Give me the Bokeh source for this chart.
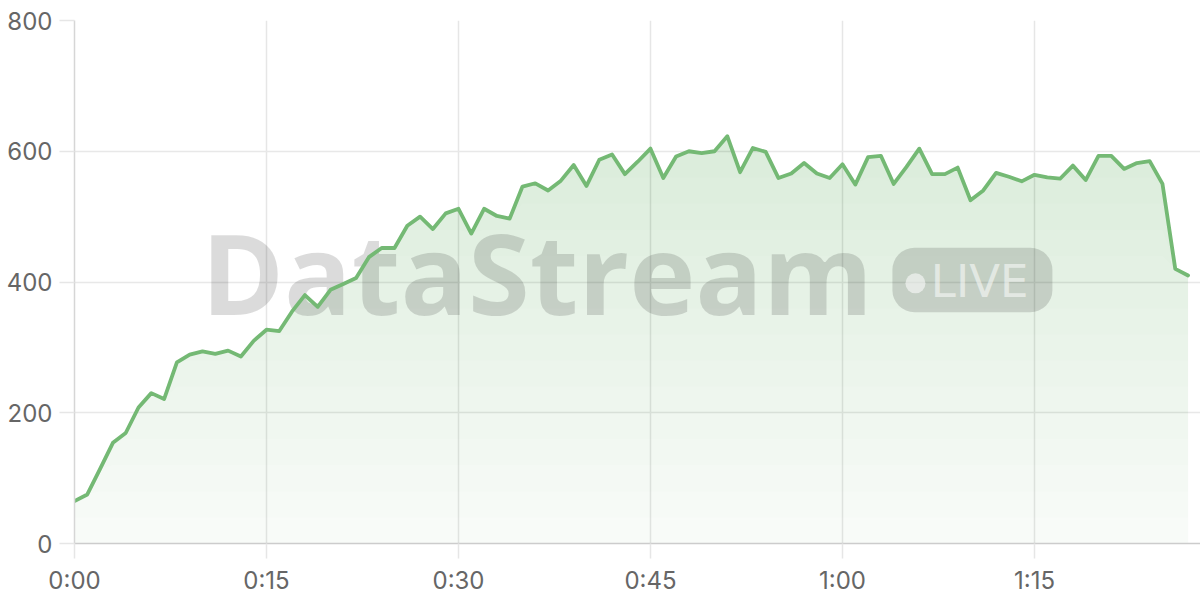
import numpy as np
from bokeh.plotting import figure
from bokeh.models import Range1d, FixedTicker, BoxAnnotation
from bokeh.core.properties import value
from bokeh.embed import file_html
from bokeh.resources import INLINE

# ---- data ----
minutes = list(range(88))
viewers = [65, 75, 114, 154, 169, 208, 230, 221, 277, 289, 294, 290, 295, 286, 310, 327, 325, 355, 380, 362,
           388, 397, 406, 438, 452, 452, 486, 500, 481, 505, 512, 474, 512, 501, 497, 546, 551, 540, 555, 579,
           547, 587, 595, 565, 584, 604, 559, 592, 600, 597, 600, 623, 568, 605, 599, 559, 566, 582, 566, 559,
           580, 549, 591, 593, 550, 576, 604, 565, 565, 575, 525, 540, 567, 561, 554, 564, 560, 558, 578, 556,
           593, 593, 573, 582, 585, 550, 420, 410]
x_ticks = [0, 15, 30, 45, 60, 75]
x_tick_labels = ["0:00", "0:15", "0:30", "0:45", "1:00", "1:15"]
y_ticks = [0, 200, 400, 600, 800]

GREEN = "#74b974"
FONT = "Inter"

p = figure(frame_width=1126, frame_height=523, output_backend="svg", toolbar_location=None,
           x_range=Range1d(0, 87.97), y_range=Range1d(0, 800),
           min_border_left=74, min_border_right=0, min_border_top=20, min_border_bottom=55)
p.outline_line_color = None
p.background_fill_color = "white"
p.border_fill_color = "white"

# gradient-like area fill: base layer + accumulating layers (darker towards the top)
x = np.array(minutes, dtype=float)
v = np.array(viewers, dtype=float)
p.varea(x=x, y1=np.zeros_like(v), y2=v, fill_color=(116, 185, 116, 0.05))
for b in np.arange(40, 800, 40):
    p.varea(x=x, y1=np.minimum(v, b), y2=v, fill_color=(116, 185, 116, 0.016))

# watermark
p.text(x=[9.9], y=[416], text=["DataStream"], text_font=value("Open Sans"), text_font_style="bold",
       text_font_size="112px", text_color="black", text_alpha=0.14, text_baseline="middle",
       text_align="left")
badge = BoxAnnotation(left=63.9, right=76.4, bottom=353.8, top=452.3, fill_color="black", fill_alpha=0.14,
                      line_color=None, border_radius=22)
p.add_layout(badge)
p.scatter(x=[65.7], y=[398], size=20, marker="circle", fill_color="white", fill_alpha=0.55,
          line_color=None, level="overlay")
p.text(x=[66.9], y=[401.5], text=["LIVE"], text_font=value("DejaVu Sans"), text_font_size="45px",
       text_color="white", text_alpha=0.55, text_baseline="middle", text_align="left", level="overlay")

# line
p.line(x=x, y=v, line_color=GREEN, line_width=3.8, line_join="round", line_cap="round")

# axes
p.xaxis.ticker = FixedTicker(ticks=x_ticks)
p.xaxis.major_label_overrides = {t: l for t, l in zip(x_ticks, x_tick_labels)}
p.yaxis.ticker = FixedTicker(ticks=y_ticks)
for ax in (p.xaxis, p.yaxis):
    ax.major_tick_in = 0
    ax.major_tick_out = 15
    ax.minor_tick_line_color = None
    ax.major_tick_line_color = "#e6e6e6"
    ax.major_tick_line_width = 1.5
    ax.major_label_text_font = FONT
    ax.major_label_text_font_size = "24px"
    ax.major_label_text_color = "#666666"
p.xaxis.axis_line_color = "#cccccc"
p.xaxis.axis_line_width = 1.5
p.yaxis.axis_line_color = "#d6d6d6"
p.yaxis.axis_line_width = 1.5
p.yaxis.major_label_standoff = 7
p.xaxis.major_label_standoff = 7

p.xgrid.grid_line_color = "#e6e6e6"
p.ygrid.grid_line_color = "#e8e8e8"
p.xgrid.grid_line_width = 1.5
p.ygrid.grid_line_width = 1.5

open("out.html", "w").write(file_html(p, INLINE))
